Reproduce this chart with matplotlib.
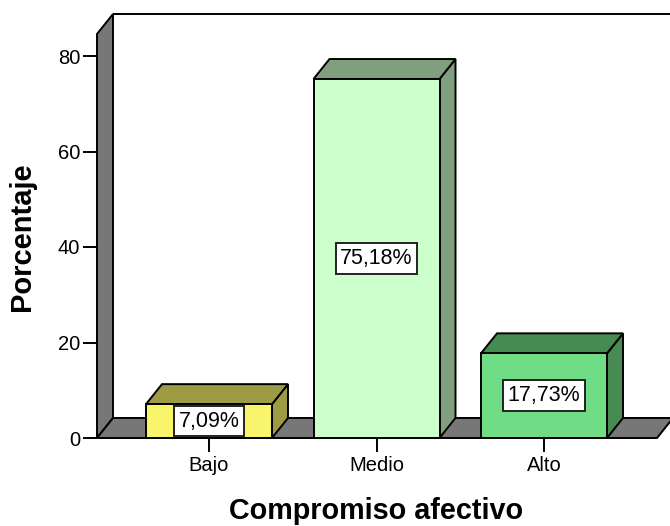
import matplotlib
matplotlib.use("Agg")
import matplotlib.pyplot as plt
from matplotlib.patches import Polygon, Rectangle

plt.rcParams['font.family'] = ['Liberation Sans', 'DejaVu Sans']

categories = ["Bajo", "Medio", "Alto"]
values = [7.09, 75.18, 17.73]
value_labels = ["7,09%", "75,18%", "17,73%"]
yticks = [0, 20, 40, 60, 80]

front_colors = ["#F8F46C", "#CCFFCC", "#70DC86"]
side_colors = ["#9E9B45", "#7F9F7F", "#478A52"]
grey = "#777777"

W, H = 670, 526
fig = plt.figure(figsize=(W / 100, H / 100), dpi=100)

# pixel geometry of the plotting frame
px_left, px_right, px_bottom, px_top = 97, 670, 438, 14
c0, step = 209, 167.5          # pixel x of first category, spacing
ppu = 4.775                     # pixels per percent
ax = fig.add_axes([px_left / W, (H - px_bottom) / H,
                   (px_right - px_left) / W, (px_bottom - px_top) / H])
xmin = (px_left - c0) / step
xmax = (px_right - c0) / step
ymax = (px_bottom - px_top) / ppu
ax.set_xlim(xmin, xmax)
ax.set_ylim(0, ymax)
for s in ax.spines.values():
    s.set_visible(False)

DX = 16 / step
DY = 20 / ppu
hw = 63 / step
lw = 1.4

# left wall
wall_top = (px_bottom - 34) / ppu
ax.add_patch(Polygon([(xmin, 0), (xmin, wall_top), (xmin + DX, wall_top + DY),
                      (xmin + DX, DY)], closed=True, facecolor=grey,
                     edgecolor="black", lw=lw, clip_on=False, zorder=1))
# back top line
ax.plot([xmin + DX, xmax + 0.05], [ymax, ymax], color="black", lw=lw,
        clip_on=False, zorder=1, solid_capstyle='butt')
# floor
floor_r = (657 - c0) / step
ax.add_patch(Polygon([(xmin, 0), (floor_r, 0), (floor_r + DX, DY),
                      (xmin + DX, DY)], closed=True, facecolor=grey,
                     edgecolor="black", lw=lw, clip_on=False, zorder=1))

# bars
for i, (v, fc, sc, lab) in enumerate(zip(values, front_colors, side_colors, value_labels)):
    x0, x1 = i - hw, i + hw
    ax.add_patch(Polygon([(x1, 0), (x1 + DX, DY), (x1 + DX, v + DY), (x1, v)],
                         closed=True, facecolor=sc, edgecolor="black", lw=lw,
                         clip_on=False, zorder=2))
    ax.add_patch(Polygon([(x0, v), (x1, v), (x1 + DX, v + DY), (x0 + DX, v + DY)],
                         closed=True, facecolor=sc, edgecolor="black", lw=lw,
                         clip_on=False, zorder=2))
    ax.add_patch(Rectangle((x0, 0), x1 - x0, v, facecolor=fc, edgecolor="black",
                           lw=lw, clip_on=False, zorder=3))
    ax.text(i, v / 2, lab, ha="center", va="center", fontsize=15.5, zorder=4,
            bbox=dict(boxstyle="square,pad=0.22", facecolor="white",
                      edgecolor="#222222", lw=1.4))

ax.set_yticks(yticks)
ax.set_yticklabels([str(t) for t in yticks], fontsize=14.5)
ax.set_xticks(range(len(categories)))
ax.set_xticklabels(categories, fontsize=14.5)
ax.tick_params(axis='y', length=10, width=1.4, pad=2, direction='out')
ax.tick_params(axis='x', length=10, width=1.4, pad=3, direction='out')

fig.text(22 / W, 1 - 237 / H, "Porcentaje", rotation=90, ha="center", va="center",
         fontsize=21, fontweight="bold")
fig.text(376 / W, 1 - 511 / H, "Compromiso afectivo", ha="center", va="center",
         fontsize=20.7, fontweight="bold")

fig.savefig("out.png", dpi=100)
